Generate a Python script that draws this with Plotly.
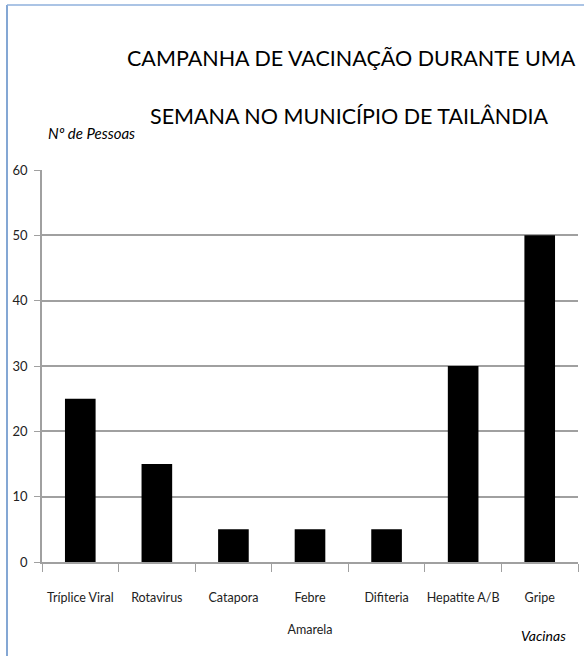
import plotly.graph_objects as go

categories = ["Tríplice Viral", "Rotavirus", "Catapora", "Febre<br> <br>Amarela", "Difiteria", "Hepatite A/B", "Gripe"]
values = [25, 15, 5, 5, 5, 30, 50]
y_ticks = [0, 10, 20, 30, 40, 50, 60]

FONT = "Lato, Roboto, sans-serif"

W, H = 584, 656
L, R, T, B = 42, 6, 170, 94
pw, ph = W - L - R, H - T - B

def px(x):
    return (x - L) / pw

def py(y):
    return (H - B - y) / ph

fig = go.Figure(go.Bar(
    x=categories, y=values,
    marker=dict(color="black", line=dict(width=0)),
    width=0.4,
))

fig.update_layout(
    width=W, height=H,
    margin=dict(l=L, r=R, t=T, b=B),
    paper_bgcolor="white", plot_bgcolor="white",
    showlegend=False,
    font=dict(family=FONT, size=12, color="#222"),
    bargap=0.6,
)
fig.update_xaxes(
    showline=True, linecolor="#a0a0a0", linewidth=1.5,
    ticks="outside", tickson="boundaries", ticklen=8, tickcolor="#a0a0a0", tickwidth=1,
    showgrid=False, tickangle=0, ticklabelstandoff=23,
    tickfont=dict(family=FONT, size=12.5, color="#222"),
)
fig.update_yaxes(
    range=[0, 60], tickvals=y_ticks,
    showline=True, linecolor="#a0a0a0", linewidth=1.5,
    ticks="outside", ticklen=6, tickcolor="#a0a0a0",
    showgrid=True, gridcolor="#a0a0a0", gridwidth=1.5,
    zeroline=False, ticklabelstandoff=4,
    tickfont=dict(family=FONT, size=13, color="#222"),
)

fig.add_annotation(text="CAMPANHA DE VACINAÇÃO DURANTE UMA", x=px(351), y=py(58),
                   xref="paper", yref="paper", xanchor="center", yanchor="middle",
                   showarrow=False, font=dict(family=FONT, size=21.5, color="black"))
fig.add_annotation(text="SEMANA NO MUNICÍPIO DE TAILÂNDIA", x=px(349), y=py(116),
                   xref="paper", yref="paper", xanchor="center", yanchor="middle",
                   showarrow=False, font=dict(family=FONT, size=21.5, color="black"))
fig.add_annotation(text="<i>Nº de Pessoas</i>", x=px(46), y=py(133),
                   xref="paper", yref="paper", xanchor="left", yanchor="middle",
                   showarrow=False, font=dict(family=FONT, size=15, color="black"))
fig.add_annotation(text="<i>Vacinas</i>", x=px(568), y=py(635),
                   xref="paper", yref="paper", xanchor="right", yanchor="middle",
                   showarrow=False, font=dict(family=FONT, size=14, color="black"))

fig.add_shape(type="line", xref="paper", yref="paper",
              x0=px(7), x1=px(7), y0=py(5), y1=py(H + 5),
              line=dict(color="#5b8ac6", width=1.5))
fig.add_shape(type="line", xref="paper", yref="paper",
              x0=px(7), x1=px(W + 5), y0=py(5), y1=py(5),
              line=dict(color="#8fb1dd", width=1.5))

fig.write_html("out.html", config={"displayModeBar": False},
               post_script="document.body.style.margin='0';")
